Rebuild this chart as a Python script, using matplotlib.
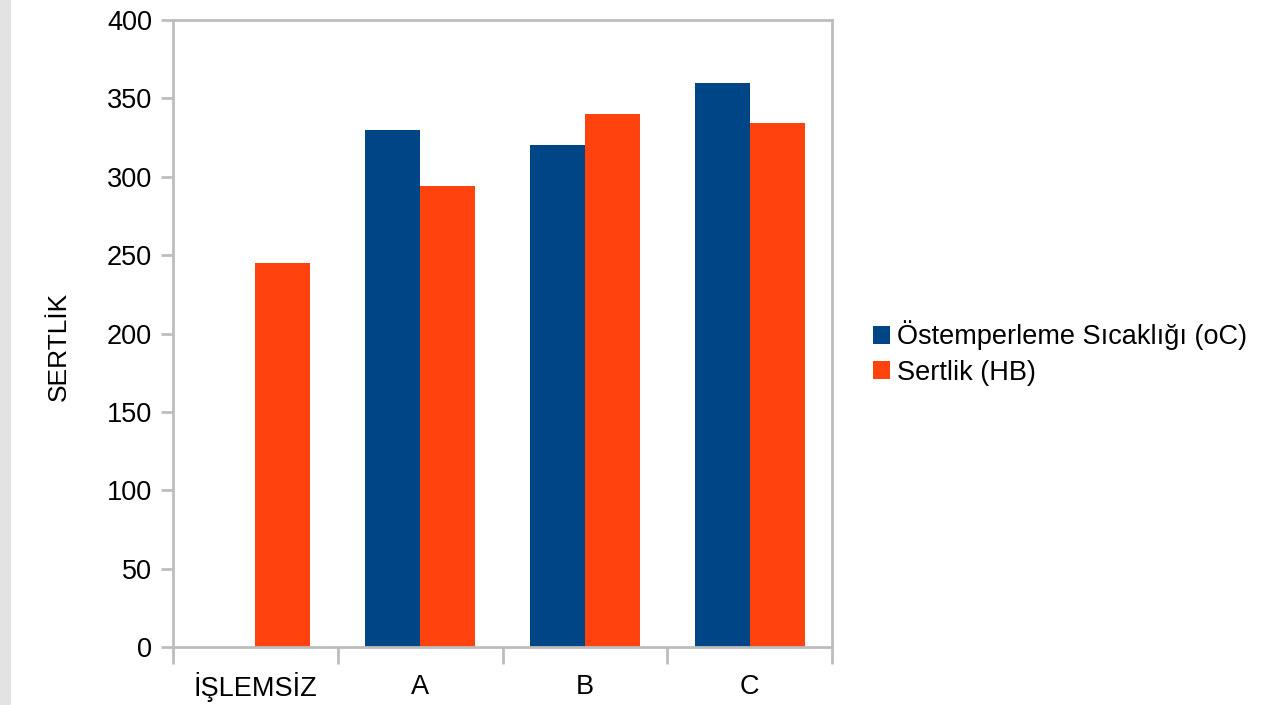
import matplotlib
matplotlib.use("Agg")
import matplotlib.pyplot as plt
from matplotlib.patches import Rectangle
import numpy as np

plt.rcParams['font.family'] = ['Liberation Sans', 'DejaVu Sans']

categories = ["İŞLEMSİZ", "A", "B", "C"]
ostemper = [0, 330, 320, 360]
sertlik = [245, 294, 340, 334]
series_names = ["Östemperleme Sıcaklığı (oC)", "Sertlik (HB)"]
colors = ["#004586", "#ff420e"]

fig = plt.figure(figsize=(12.66, 7.05), dpi=100)
ax = fig.add_axes([173/1266, 58/705, 659/1266, 627/705])

# left grey strip
fig.patches.append(Rectangle((0, 0), 10/1266, 1, transform=fig.transFigure,
                             color="#e3e3e3", zorder=0))

x = np.arange(len(categories))
w = 1/3
ax.bar(x - w/2, ostemper, w, color=colors[0], label=series_names[0])
ax.bar(x + w/2, sertlik, w, color=colors[1], label=series_names[1])

ax.set_xlim(-0.5, len(categories) - 0.5)
ax.set_ylim(0, 400)
ax.set_yticks(range(0, 401, 50))
ax.set_xticks(x)
ax.set_xticklabels(categories)
ax.set_xticks(np.arange(-0.5, len(categories), 1), minor=True)
ax.tick_params(axis='x', which='major', length=0, pad=29, labelsize=19.5)
ax.tick_params(axis='x', which='minor', length=12, width=2, color="#bdbdbd")
ax.tick_params(axis='y', length=9, width=2, color="#bdbdbd", pad=6, labelsize=19.5)
for lab in ax.get_xticklabels():
    lab.set_verticalalignment('center')
for s in ax.spines.values():
    s.set_color("#bdbdbd")
    s.set_linewidth(2)

ax.set_ylabel("SERTLİK", fontsize=19)
ax.yaxis.set_label_coords(-0.155, 0.48)

fig.legend(loc='center left', bbox_to_anchor=(862/1266, 352/705), frameon=False,
           fontsize=19.5, handlelength=0.65, handleheight=0.65, handletextpad=0.25,
           labelspacing=0.35, borderaxespad=0)

fig.savefig("out.png", dpi=100)
